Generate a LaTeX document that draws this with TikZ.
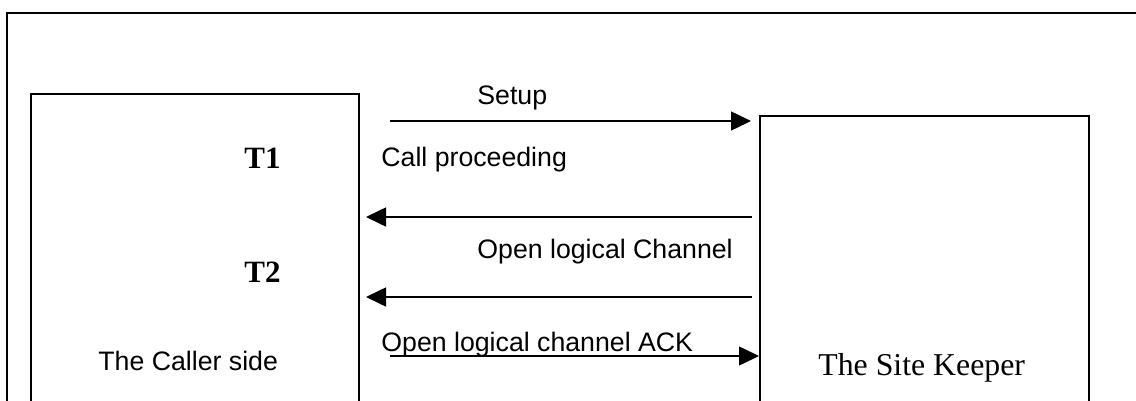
\documentclass[tikz,border=0pt]{standalone}
\usepackage{fontspec}
\setmainfont{Liberation Serif}
\newfontfamily\arialfont{Liberation Sans}
\usetikzlibrary{arrows.meta}
\begin{document}
\begin{tikzpicture}[x=0.5pt,y=-0.5pt,
  frame/.style={line width=1pt},
  msg/.style={line width=0.75pt,-{Triangle[length=10pt,width=9.5pt]}},
  sanslbl/.style={inner sep=0pt,anchor=base west,font=\arialfont\fontsize{13.35}{15}\selectfont},
  tlbl/.style={inner sep=0pt,anchor=base west,font=\bfseries\fontsize{15.5}{18}\selectfont},
  seriflbl/.style={inner sep=0pt,anchor=base west,font=\fontsize{15.9}{19}\selectfont}]
\useasboundingbox (0,0) rectangle (1136,401);
% outer frame
\draw[frame] (7,402) -- (7,13) -- (1137,13);
% caller box
\draw[frame] (31,402) -- (31,94) -- (359,94) -- (359,402);
% site keeper box
\draw[frame] (760,402) -- (760,116) -- (1089,116) -- (1089,402);
% coordinates
\coordinate (s1) at (390,121);  \coordinate (e1) at (751,121);
\coordinate (s2) at (752,217);  \coordinate (e2) at (366,217);
\coordinate (s3) at (752,297);  \coordinate (e3) at (366,297);
\coordinate (s4) at (390,356);  \coordinate (e4) at (759,356);
% messages
\draw[msg] (s1) -- (e1);
\draw[msg] (s2) -- (e2);
\draw[msg] (s3) -- (e3);
\draw[msg] (s4) -- (e4);
% labels
\node[sanslbl] (setup) at (477,105) {Setup};
\node[sanslbl] (callp) at (381,167) {Call proceeding};
\node[sanslbl] (olc) at (477,258) {Open logical Channel};
\node[sanslbl] (olca) at (381,351) {Open logical channel ACK};
\node[sanslbl] (caller) at (98,370) {The Caller side};
\node[tlbl] (t1) at (244,169) {T1};
\node[tlbl] (t2) at (244,282) {T2};
\node[seriflbl] (keeper) at (818,375) {The Site Keeper};
\end{tikzpicture}
\end{document}
